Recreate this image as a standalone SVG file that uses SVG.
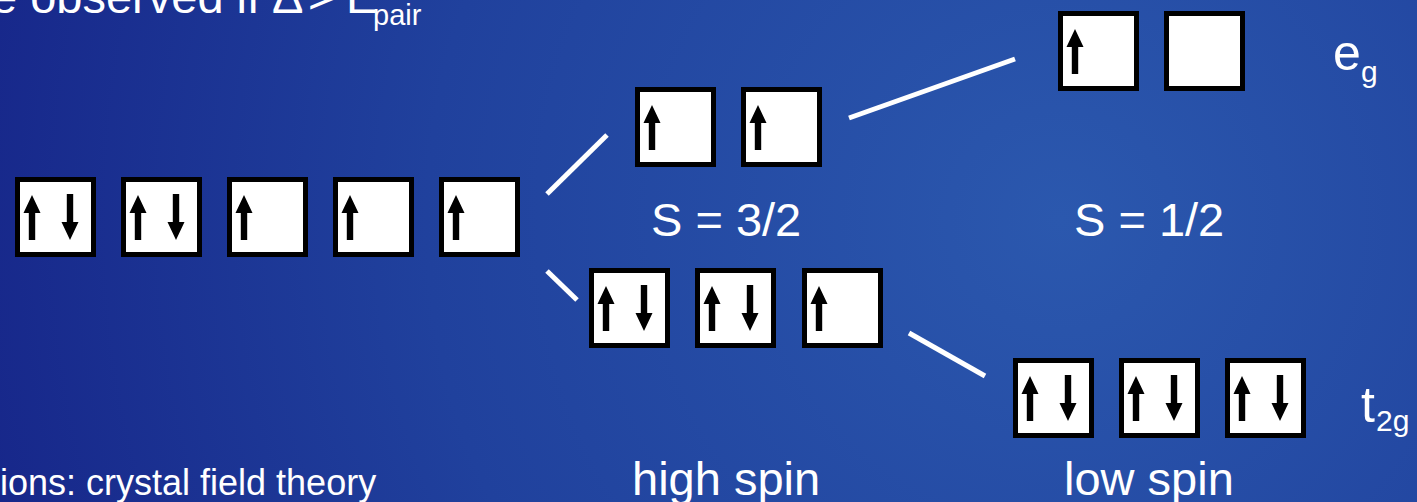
<svg xmlns="http://www.w3.org/2000/svg" xmlns:xlink="http://www.w3.org/1999/xlink" width="1417" height="502" viewBox="0 0 1417 502">
<style>
.box{fill:#ffffff;stroke:#000000;stroke-width:5}
.arr{fill:#000000}
.conn{stroke:#ffffff;stroke-width:5;stroke-linecap:butt;fill:none}
.lbl{fill:#ffffff;font-family:"Liberation Sans",Arial,sans-serif;font-size:47px}
.sub{font-size:30px}
</style>
<defs>
<radialGradient id="bg" gradientUnits="userSpaceOnUse" cx="1060" cy="220" r="1150">
<stop offset="0" stop-color="#2b58ae"/>
<stop offset="0.55" stop-color="#20419d"/>
<stop offset="1" stop-color="#162488"/>
</radialGradient>
<polygon id="up" class="arr" points="0,0 8.5,18 3.2,18 3.2,45 -3.2,45 -3.2,18 -8.5,18"/>
<polygon id="dn" class="arr" points="-3.2,0 3.2,0 3.2,28 8.5,28 0,46 -8.5,28 -3.2,28"/>
</defs>
<rect x="0" y="0" width="1417" height="502" fill="url(#bg)"/>

<g id="title">
<text class="lbl" y="13"><tspan x="-9">e observed if</tspan><tspan x="272">Δ</tspan><tspan x="308">&gt;</tspan><tspan x="346">E</tspan><tspan x="373" y="25" style="font-size:29px">pair</tspan></text>
</g>

<g id="connectors">
<line class="conn" x1="547" y1="194" x2="607" y2="135"/>
<line class="conn" x1="547" y1="271" x2="577" y2="300"/>
<line class="conn" x1="849" y1="118" x2="1015" y2="59"/>
<line class="conn" x1="909" y1="333" x2="985" y2="376"/>
</g>

<!-- free ion d orbitals -->
<g id="free1"><rect class="box" x="17.5" y="179.5" width="76" height="75"/><use href="#up" x="32" y="195"/><use href="#dn" x="70" y="194"/></g>
<g id="free2"><rect class="box" x="123.5" y="179.5" width="76" height="75"/><use href="#up" x="138" y="195"/><use href="#dn" x="176" y="194"/></g>
<g id="free3"><rect class="box" x="229.5" y="179.5" width="76" height="75"/><use href="#up" x="244" y="195"/></g>
<g id="free4"><rect class="box" x="335.5" y="179.5" width="76" height="75"/><use href="#up" x="350" y="195"/></g>
<g id="free5"><rect class="box" x="441.5" y="179.5" width="76" height="75"/><use href="#up" x="456" y="195"/></g>

<!-- high spin eg -->
<g id="hs_eg1"><rect class="box" x="637.5" y="89.5" width="76" height="75"/><use href="#up" x="652" y="105"/></g>
<g id="hs_eg2"><rect class="box" x="743.5" y="89.5" width="76" height="75"/><use href="#up" x="758" y="105"/></g>

<!-- high spin t2g -->
<g id="hs_t1"><rect class="box" x="591.5" y="270.5" width="76" height="75"/><use href="#up" x="606" y="286"/><use href="#dn" x="644" y="285"/></g>
<g id="hs_t2"><rect class="box" x="697.5" y="270.5" width="76" height="75"/><use href="#up" x="712" y="286"/><use href="#dn" x="750" y="285"/></g>
<g id="hs_t3"><rect class="box" x="804.5" y="270.5" width="76" height="75"/><use href="#up" x="819" y="286"/></g>

<!-- low spin eg -->
<g id="ls_eg1"><rect class="box" x="1060.5" y="13.5" width="76" height="75"/><use href="#up" x="1075" y="29"/></g>
<g id="ls_eg2"><rect class="box" x="1166.5" y="13.5" width="76" height="75"/></g>

<!-- low spin t2g -->
<g id="ls_t1"><rect class="box" x="1015.5" y="360.5" width="76" height="75"/><use href="#up" x="1030" y="376"/><use href="#dn" x="1068" y="375"/></g>
<g id="ls_t2"><rect class="box" x="1121.5" y="360.5" width="76" height="75"/><use href="#up" x="1136" y="376"/><use href="#dn" x="1174" y="375"/></g>
<g id="ls_t3"><rect class="box" x="1227.5" y="360.5" width="76" height="75"/><use href="#up" x="1242" y="376"/><use href="#dn" x="1280" y="375"/></g>

<g id="label_s32"><text class="lbl" x="651" y="236">S = 3/2</text></g>
<g id="label_s12"><text class="lbl" x="1074" y="236">S = 1/2</text></g>
<g id="label_eg"><text class="lbl" x="1333" y="70" style="font-size:50px">e<tspan class="sub" x="1361" y="82">g</tspan></text></g>
<g id="label_t2g"><text class="lbl" x="1361" y="422" style="font-size:50px">t<tspan class="sub" x="1376" y="431">2g</tspan></text></g>
<g id="label_high"><text class="lbl" x="632" y="495">high spin</text></g>
<g id="label_low"><text class="lbl" x="1064" y="495">low spin</text></g>
<g id="footer"><text class="lbl" x="0" y="495" style="font-size:36px">ions: crystal field theory</text></g>
</svg>
